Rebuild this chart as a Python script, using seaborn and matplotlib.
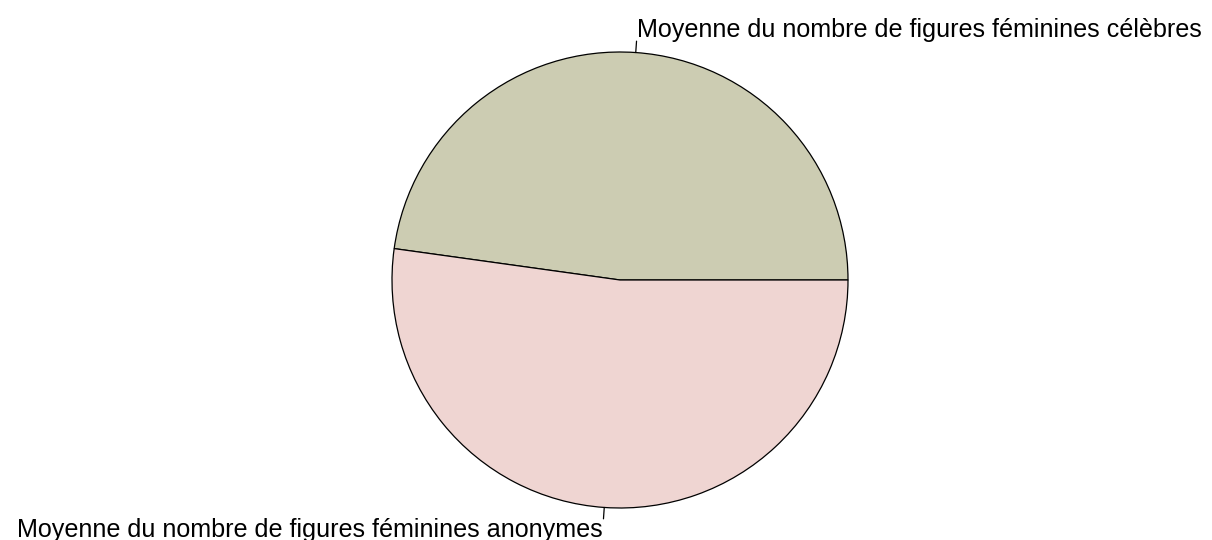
#! /usr/bin/env python3
import numpy as np
import matplotlib
matplotlib.use('Agg')
import matplotlib.pyplot as plt
import seaborn as sns

labels = ['Moyenne du nombre de figures féminines célèbres',
          'Moyenne du nombre de figures féminines anonymes']
values = [0.478, 0.522]
colors = ['#CCCCB2', '#EFD5D2']

sns.set_theme(style='white')
plt.rcParams['font.family'] = ['Liberation Sans', 'DejaVu Sans']

fig = plt.figure(figsize=(12.12, 5.4), dpi=100)
ax = fig.add_axes([0, 0, 1, 1])

cx, cy, r = 620, 260, 228
wedges, texts = ax.pie(values, labels=labels, colors=colors, startangle=0,
                       counterclock=True, center=(cx, cy), radius=r,
                       labeldistance=1.1,
                       wedgeprops=dict(edgecolor='black', linewidth=0.9),
                       textprops=dict(fontsize=18.1, color='black'))

# short tick from the rim to the label, like R's pie()
for w, t in zip(wedges, texts):
    a = np.deg2rad((w.theta1 + w.theta2) / 2)
    ax.plot([cx + r * np.cos(a), cx + 1.05 * r * np.cos(a)],
            [cy + r * np.sin(a), cy + 1.05 * r * np.sin(a)],
            color='black', linewidth=0.9)
    t.set_horizontalalignment('left' if np.cos(a) > 0 else 'right')

ax.set_xlim(0, 1212)
ax.set_ylim(0, 540)
ax.set_aspect('equal')
ax.axis('off')

fig.savefig('out.png', dpi=100)
